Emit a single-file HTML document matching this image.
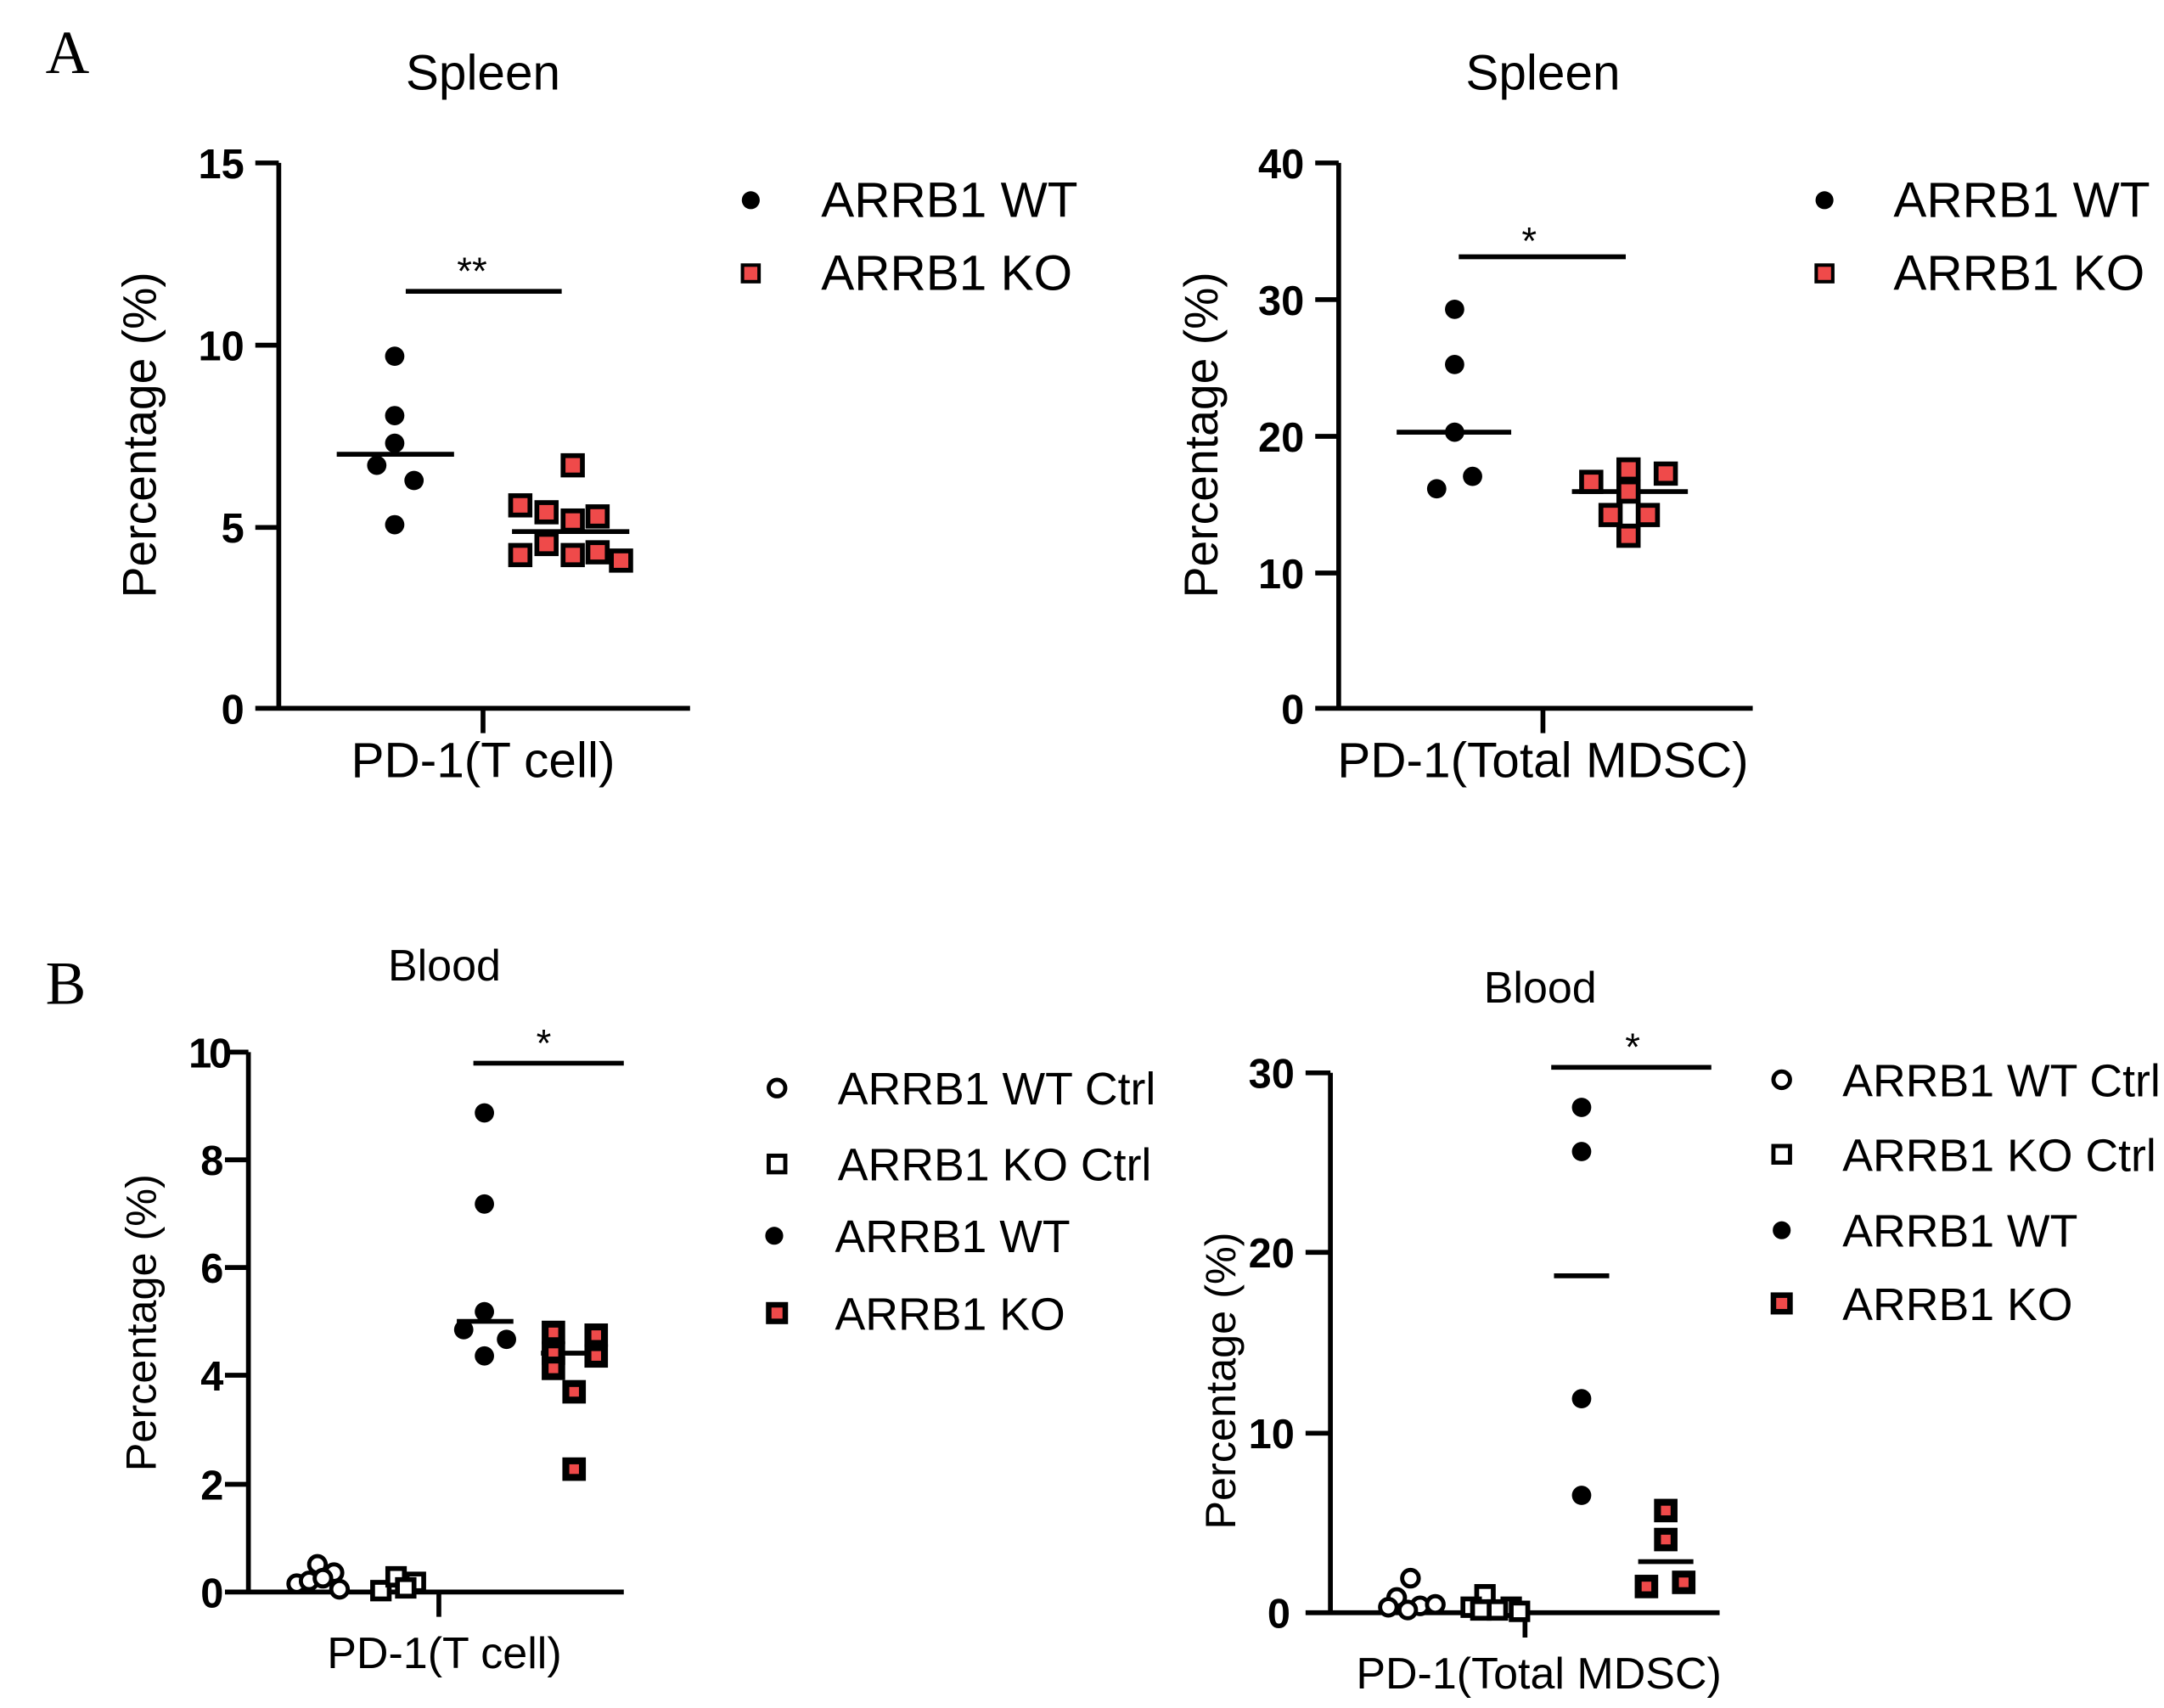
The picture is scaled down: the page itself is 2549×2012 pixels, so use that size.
<!DOCTYPE html>
<html><head><meta charset="utf-8"><style>
html,body{margin:0;padding:0;background:#fff}
svg{display:block}
text{font-family:"Liberation Sans",Arial,sans-serif;fill:#000}
.tk{font-weight:bold;font-size:30px;text-anchor:end}
.lg{font-size:36px}
.lb{font-size:33px}
.ti{font-size:36px;text-anchor:middle}
.tb{font-size:32px;text-anchor:middle}
.pl{font-family:"Liberation Serif",serif;font-size:44px}
.ax{stroke:#000;stroke-width:3.5;fill:none}
.dot{fill:#000}
.oc{fill:#fff;stroke:#000;stroke-width:3}
.sq{fill:#ef4a4a;stroke:#000;stroke-width:3.5}
.os{fill:#fff;stroke:#000;stroke-width:3.5}
.bs{fill:#ef4a4a;stroke:#000;stroke-width:5}
</style></head><body>
<svg width="2549" height="2012" viewBox="0 0 1568 1237" preserveAspectRatio="none" xmlns="http://www.w3.org/2000/svg">
<text class="pl" x="33" y="53">A</text>
<text class="pl" x="33" y="727">B</text>

<!-- A1 -->
<text class="ti" x="350" y="65">Spleen</text>
<path class="ax" d="M202,118 V513 M185,118 H202 M185,250 H202 M185,382 H202 M185,513 H500 M350,513 V531"/>
<text class="tk" x="177" y="129">15</text>
<text class="tk" x="177" y="261">10</text>
<text class="tk" x="177" y="393">5</text>
<text class="tk" x="177" y="524">0</text>
<text class="ti" x="350" y="563">PD-1(T cell)</text>
<text class="ti" style="font-size:34px" transform="translate(113,315) rotate(-90)">Percentage (%)</text>
<path class="ax" d="M294,211 H407 M244,329 H329 M371,385 H456"/>
<text class="ti" x="342" y="206" style="font-size:28px">**</text>
<g class="dot">
<circle cx="286" cy="258" r="7"/><circle cx="286" cy="301" r="7"/><circle cx="286" cy="321" r="7"/>
<circle cx="273" cy="337" r="7"/><circle cx="300" cy="348" r="7"/><circle cx="286" cy="380" r="7"/></g>
<g class="sq">
<rect x="408" y="330" width="14" height="14"/><rect x="370" y="359" width="14" height="14"/>
<rect x="389" y="364" width="14" height="14"/><rect x="408" y="370" width="14" height="14"/>
<rect x="426" y="367" width="14" height="14"/><rect x="389" y="387" width="14" height="14"/>
<rect x="370" y="395" width="14" height="14"/><rect x="408" y="395" width="14" height="14"/>
<rect x="426" y="393" width="14" height="14"/><rect x="443" y="399" width="14" height="14"/></g>
<circle class="dot" cx="544" cy="145" r="6.5"/>
<rect x="538" y="192" width="12" height="12" style="fill:#ef4a4a;stroke:#000;stroke-width:2.5"/>
<text class="lg" x="595" y="157">ARRB1 WT</text>
<text class="lg" x="595" y="210">ARRB1 KO</text>

<!-- A2 -->
<text class="ti" x="1118" y="65">Spleen</text>
<path class="ax" d="M970,118 V513 M953,118 H970 M953,217 H970 M953,316 H970 M953,415 H970 M953,513 H1270 M1118,513 V531"/>
<text class="tk" x="945" y="129">40</text>
<text class="tk" x="945" y="228">30</text>
<text class="tk" x="945" y="327">20</text>
<text class="tk" x="945" y="426">10</text>
<text class="tk" x="945" y="524">0</text>
<text class="ti" x="1118" y="563">PD-1(Total MDSC)</text>
<text class="ti" style="font-size:34px" transform="translate(882,315) rotate(-90)">Percentage (%)</text>
<path class="ax" d="M1057,186 H1178 M1012,313 H1095 M1139,356 H1223"/>
<text class="ti" x="1108" y="184" style="font-size:28px">*</text>
<g class="dot">
<circle cx="1054" cy="224" r="7"/><circle cx="1054" cy="264" r="7"/><circle cx="1054" cy="313" r="7"/>
<circle cx="1067" cy="345" r="7"/><circle cx="1041" cy="354" r="7"/></g>
<g class="sq">
<rect x="1146" y="342" width="14" height="14"/><rect x="1173" y="333" width="14" height="14"/>
<rect x="1200" y="336" width="14" height="14"/><rect x="1173" y="349" width="14" height="14"/>
<rect x="1160" y="366" width="14" height="14"/><rect x="1187" y="366" width="14" height="14"/>
<rect x="1173" y="381" width="14" height="14"/></g>
<circle class="dot" cx="1322" cy="145" r="6.5"/>
<rect x="1316" y="192" width="12" height="12" style="fill:#ef4a4a;stroke:#000;stroke-width:2.5"/>
<text class="lg" x="1372" y="157">ARRB1 WT</text>
<text class="lg" x="1372" y="210">ARRB1 KO</text>

<!-- B1 -->
<text class="tb" x="322" y="710">Blood</text>
<path class="ax" d="M180,762 V1153 M163,762 H180 M163,840 H180 M163,918 H180 M163,996 H180 M163,1075 H180 M163,1153 H452 M318,1153 V1171"/>
<text class="tk" x="166" y="773" style="letter-spacing:-2px">10</text>
<text class="tk" x="162" y="851">8</text>
<text class="tk" x="162" y="929">6</text>
<text class="tk" x="162" y="1007">4</text>
<text class="tk" x="162" y="1086">2</text>
<text class="tk" x="162" y="1164">0</text>
<text class="tb" x="322" y="1208">PD-1(T cell)</text>
<text class="tb" style="font-size:31px" transform="translate(113,958) rotate(-90)">Percentage (%)</text>
<path class="ax" d="M343,770 H452 M331,957 H372 M392,980 H433"/>
<text class="ti" x="394" y="765" style="font-size:28px">*</text>
<g class="dot">
<circle cx="351" cy="806" r="7"/><circle cx="351" cy="872" r="7"/><circle cx="351" cy="950" r="7"/>
<circle cx="336" cy="963" r="7"/><circle cx="367" cy="970" r="7"/><circle cx="351" cy="982" r="7"/></g>
<g class="bs">
<rect x="395" y="959" width="12" height="12"/><rect x="426" y="961" width="12" height="12"/>
<rect x="395" y="974" width="12" height="12"/><rect x="426" y="976" width="12" height="12"/>
<rect x="395" y="985" width="12" height="12"/><rect x="410" y="1002" width="12" height="12"/>
<rect x="410" y="1058" width="12" height="12"/></g>
<g class="oc">
<circle cx="215" cy="1147" r="6"/><circle cx="230" cy="1133" r="6"/><circle cx="224" cy="1145" r="6"/>
<circle cx="242" cy="1139" r="6"/><circle cx="246" cy="1151" r="6"/><circle cx="234" cy="1143" r="6"/></g>
<g class="os">
<rect x="270" y="1146" width="12" height="12"/><rect x="281" y="1136" width="12" height="12"/>
<rect x="295" y="1140" width="12" height="12"/><rect x="288" y="1144" width="12" height="12"/></g>
<circle cx="563" cy="788" r="6" class="oc"/>
<rect x="557" y="837" width="12" height="12" class="os" style="stroke-width:3"/>
<circle class="dot" cx="561" cy="895" r="6.5"/>
<rect x="557" y="945" width="12" height="12" class="bs" style="stroke-width:4"/>
<text class="lb" x="607" y="800">ARRB1 WT Ctrl</text>
<text class="lb" x="607" y="855">ARRB1 KO Ctrl</text>
<text class="lb" x="605" y="907">ARRB1 WT</text>
<text class="lb" x="605" y="963">ARRB1 KO</text>

<!-- B2 -->
<text class="tb" x="1116" y="726">Blood</text>
<path class="ax" d="M964,777 V1168 M946,777 H964 M946,907 H964 M946,1038 H964 M946,1168 H1246 M1105,1168 V1186"/>
<text class="tk" x="938" y="788">30</text>
<text class="tk" x="938" y="918">20</text>
<text class="tk" x="938" y="1049">10</text>
<text class="tk" x="935" y="1179">0</text>
<text class="tb" x="1115" y="1223">PD-1(Total MDSC)</text>
<text class="tb" style="font-size:31px" transform="translate(895,1000) rotate(-90)">Percentage (%)</text>
<path class="ax" d="M1124,773 H1240 M1126,924 H1166 M1187,1131 H1227"/>
<text class="ti" x="1183" y="768" style="font-size:28px">*</text>
<g class="dot">
<circle cx="1146" cy="802" r="7"/><circle cx="1146" cy="834" r="7"/>
<circle cx="1146" cy="1013" r="7"/><circle cx="1146" cy="1083" r="7"/></g>
<g class="bs">
<rect x="1201" y="1088" width="12" height="12"/><rect x="1201" y="1109" width="12" height="12"/>
<rect x="1187" y="1143" width="12" height="12"/><rect x="1214" y="1140" width="12" height="12"/></g>
<g class="oc">
<circle cx="1022" cy="1143" r="6"/><circle cx="1012" cy="1157" r="6"/><circle cx="1006" cy="1164" r="6"/>
<circle cx="1029" cy="1163" r="6"/><circle cx="1040" cy="1162" r="6"/><circle cx="1020" cy="1166" r="6"/></g>
<g class="os">
<rect x="1070" y="1149" width="12" height="12"/><rect x="1060" y="1158" width="12" height="12"/>
<rect x="1089" y="1158" width="12" height="12"/><rect x="1079" y="1160" width="12" height="12"/>
<rect x="1067" y="1160" width="12" height="12"/><rect x="1095" y="1161" width="12" height="12"/></g>
<circle cx="1291" cy="782" r="6" class="oc"/>
<rect x="1285" y="830" width="12" height="12" class="os" style="stroke-width:3"/>
<circle class="dot" cx="1291" cy="891" r="6.5"/>
<rect x="1285" y="938" width="12" height="12" class="bs" style="stroke-width:4"/>
<text class="lb" x="1335" y="794">ARRB1 WT Ctrl</text>
<text class="lb" x="1335" y="848">ARRB1 KO Ctrl</text>
<text class="lb" x="1335" y="903">ARRB1 WT</text>
<text class="lb" x="1335" y="956">ARRB1 KO</text>
</svg>
</body></html>
